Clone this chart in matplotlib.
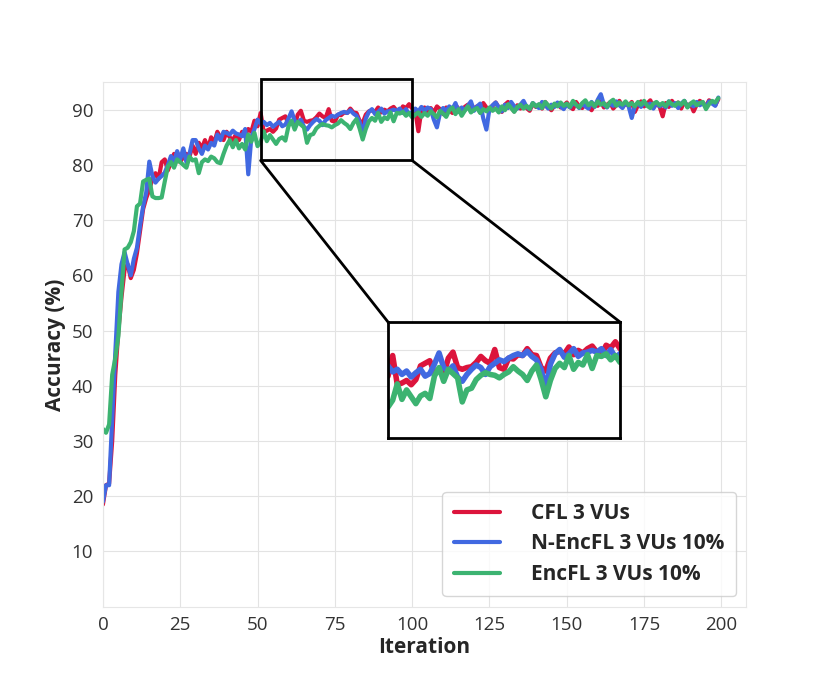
import matplotlib
matplotlib.use("Agg")
import matplotlib.pyplot as plt
from matplotlib.patches import Rectangle, ConnectionPatch
import seaborn as sns

sns.set_style("whitegrid")
plt.rcParams['font.family'] = ['Open Sans', 'DejaVu Sans']
plt.rcParams['grid.color'] = '#e3e3e3'

# accuracy per iteration
cfl = [18.5, 22, 22.3, 30, 42, 50, 56, 61, 62, 59.5,
       61, 64, 68, 72, 74, 75.5, 77.5, 78.5, 77.5, 80.5,
       81, 79, 80.5, 82, 81, 80.5, 81.5, 82, 81.5, 83.5,
       82, 84, 83, 84.5, 83, 85, 84, 86, 85, 84.5,
       86, 85, 84.5, 85.5, 84.5, 86, 85.5, 86.5, 86, 88,
       87, 89.4, 86, 86.2, 86.5, 86, 86.6, 88.2, 88.5, 88.8,
       87.4, 87.6, 87.2, 89.1, 89.8, 88, 87.8, 88, 88.1, 88.6,
       89.3, 88.8, 88.5, 90.1, 88, 87.8, 89.1, 89, 89.5, 89.4,
       90.2, 89.5, 89.4, 88, 87.6, 89.1, 89.7, 89.9, 89.6, 90.4,
       89.5, 90, 89.7, 90.2, 90.5, 89.8, 89.4, 90.6, 90.3, 91,
       90.2, 89.8, 86.1, 90, 90.4, 89.6, 90.3, 89.5, 90.6, 90.1,
       89.2, 90.4, 90, 89.4, 90.8, 90.2, 89.6, 90.5, 90.9, 89.8,
       90.3, 90.6, 89.5, 91.2, 90.4, 89.9, 90.7, 91.3, 90.4, 89.6,
       90.9, 91.4, 90.5, 89.7, 90.8, 90.2, 91, 90.3, 89.8, 91.1,
       90.5, 90.9, 90.2, 91.4, 90.6, 89.9, 90.8, 91.2, 90.4, 90.7,
       91.3, 90.5, 90.1, 91.4, 90.6, 90.3, 91.1, 90.6, 89.9, 91,
       90.7, 91.5, 90.4, 90.9, 91.3, 90.2, 90.8, 91.6, 90.5, 91.1,
       90.7, 91.4, 89.6, 90.8, 91.5, 90.6, 91.1, 91.7, 90.4, 91,
       90.6, 88.8, 91.2, 90.5, 91.6, 90.8, 91.3, 90.2, 91.5, 90.6,
       91.1, 89.7, 90.9, 91.6, 91.2, 90.6, 91.7, 91.4, 90.8, 91.9]

nencfl = [19, 22, 22, 34, 46, 57, 62, 64.2, 62, 60,
          63, 65, 69, 72.5, 75, 80.6, 78, 76.8, 77.5, 78,
          78.6, 80, 81.6, 80.5, 82.5, 81, 83, 80.5, 82, 84.5,
          84.5, 83, 82, 83.5, 82.8, 84, 83.5, 85.5, 84.5, 86,
          85.8, 85.5, 86.2, 85.7, 85.5, 85.2, 86.5, 78.3, 85, 86.5,
          88.2, 87.5, 87.8, 87.2, 87.6, 86.9, 87.4, 87.8, 87, 87.3,
          88.4, 89.7, 88, 87.6, 88.2, 86.9, 86.4, 87.2, 87.8, 88.3,
          88, 87.2, 88.1, 88.5, 88.9, 88.7, 89.1, 89.4, 89.6, 89.4,
          89.9, 89.3, 88.9, 87.8, 85.5, 88.4, 89.6, 90.1, 89.2, 89.6,
          90.2, 89.3, 89.7, 89.8, 90, 89.8, 90.2, 89.4, 90.1, 89.2,
          89.6, 90.2, 89.7, 90.5, 89.8, 90.4, 90.1, 88.2, 86.8, 89.4,
          90.3, 89.8, 90.6, 90.1, 91.2, 89.6, 90.4, 89.9, 90.7, 91.5,
          89.8, 90.6, 91.1, 88.4, 86.4, 90.2, 90.8, 91.3, 90.4, 89.7,
          90.9, 90.3, 91.4, 90.6, 90.2, 90.9, 91.6, 90.5, 90.1, 91.2,
          90.7, 90.3, 91.4, 90.8, 90.2, 90.9, 90.5, 91.3, 90.6, 90.1,
          91, 90.4, 91.2, 90.9, 90.3, 91.1, 90.6, 90.2, 91.4, 90.5,
          91.8, 92.8, 90.9, 90.4, 91.2, 90.7, 91.5, 90.8, 90.3, 91.3,
          90.6, 88.5, 90.7, 91.2, 90.5, 91.4, 90.8, 91.1, 90.2, 91.3,
          90.6, 91, 90.4, 91.5, 90.7, 91.2, 90.3, 91.1, 91.6, 90.5,
          91, 90.6, 91.4, 90.8, 91.2, 90.4, 91.5, 91.1, 90.7, 92.2]

encfl = [32.2, 31.5, 33, 42, 45, 49, 57, 64.7, 65, 66,
         68, 72.5, 73, 77, 77.3, 77.5, 74.3, 74, 74, 74.1,
         77, 79.7, 80.5, 79.5, 81, 80.5, 80, 79.5, 81.5, 80.8,
         81, 78.5, 80.5, 81, 80.7, 81.5, 81.2, 80.5, 80.3, 82,
         83.5, 84.5, 83.2, 84.5, 83, 83.8, 82.8, 85.5, 84.2, 85.8,
         83.4, 84.2, 86.1, 84.3, 85.4, 84.6, 83.8, 84.7, 85, 84.4,
         87, 88, 86.4, 87.8, 87.3, 86.8, 84, 85.4, 85.6, 86.6,
         87.1, 87.4, 87.2, 87.1, 86.8, 87.2, 87.5, 88.1, 87.6, 87.2,
         86.5, 87.6, 88.3, 86.6, 84.6, 86.5, 87.9, 88.5, 88, 89.4,
         87.8, 88.6, 88.3, 89.5, 87.9, 89.4, 89.3, 89.6, 88.9, 89.4,
         88.6, 89.1, 89.5, 88.7, 89.4, 88.9, 89.7, 89.2, 88.6, 89.8,
         89.3, 88.7, 89.9, 90.4, 89.2, 90.1, 88.9, 89.8, 90.6, 89.5,
         90, 90.3, 89.4, 90.1, 89.7, 90.4, 89.8, 90.2, 89.5, 90.6,
         89.9, 91, 90.3, 89.6, 90.5, 90.9, 90.2, 90.7, 90.1, 91.2,
         90.6, 91, 90.3, 91.4, 90.8, 90.2, 91.1, 90.6, 91.3, 90.7,
         91.1, 90.5, 91.6, 90.9, 90.4, 91.2, 91.7, 90.8, 91.3, 90.6,
         91.5, 90.9, 91.2, 90.5, 91.4, 91.8, 90.7, 91.3, 90.9, 91.5,
         90.8, 91.2, 90.6, 91.4, 90.9, 91.6, 90.7, 90.3, 91.1, 91.4,
         90.8, 91.2, 90.6, 91.5, 91, 90.7, 91.3, 90.9, 91.6, 90.4,
         91.1, 91.5, 90.8, 91.2, 91.4, 90.1, 91, 91.6, 91.3, 92.1]

iterations = list(range(len(cfl)))
labels = ['CFL 3 VUs', 'N-EncFL 3 VUs 10%', 'EncFL 3 VUs 10%']
colors = ['crimson', 'royalblue', 'mediumseagreen']
series = [cfl, nencfl, encfl]

fig = plt.figure(figsize=(8.3, 6.84), dpi=100)
ax = fig.add_axes([0.124, 0.113, 0.775, 0.767])

for s, c, l in zip(series, colors, labels):
    ax.plot(iterations, s, color=c, lw=3, label=l)

ax.set_xlim(0, 208)
ax.set_ylim(0, 95)
ax.set_xticks(range(0, 201, 25))
ax.set_yticks(range(10, 91, 10))
ax.tick_params(labelsize=13.5, colors='#333333')
ax.set_xlabel('Iteration', fontsize=15, fontweight='bold', color='#262626', labelpad=2)
ax.set_ylabel('Accuracy (%)', fontsize=15, fontweight='bold', color='#262626')
for sp in ax.spines.values():
    sp.set_color('#e6e6e6')

leg = ax.legend(loc='lower right', prop={'weight': 'bold', 'size': 15},
                handlelength=2.2, borderpad=0.55, labelspacing=0.45, handletextpad=1.5)
for h in leg.get_lines():
    h.set_linewidth(3)

# zoomed inset
axins = fig.add_axes([0.4675, 0.3596, 0.2795, 0.1696])
for s, c in zip(series, colors):
    axins.plot(iterations, s, color=c, lw=4)
axins.set_xlim(50, 100)
axins.set_ylim(79.8, 93.3)
axins.set_xticks([75])
axins.set_yticks([90])
axins.set_xticklabels([])
axins.set_yticklabels([])
axins.tick_params(length=0)
for sp in axins.spines.values():
    sp.set_color('black')
    sp.set_linewidth(2)

box = Rectangle((51, 80.8), 49, 14.7, fill=False, ec='black', lw=2, clip_on=False, zorder=5)
ax.add_patch(box)
for xd, xa in [(51, 0), (100, 1)]:
    con = ConnectionPatch(xyA=(xd, 80.8), coordsA=ax.transData,
                          xyB=(xa, 1), coordsB=axins.transAxes,
                          color='black', lw=2)
    fig.add_artist(con)

fig.savefig('out.png', dpi=100)
